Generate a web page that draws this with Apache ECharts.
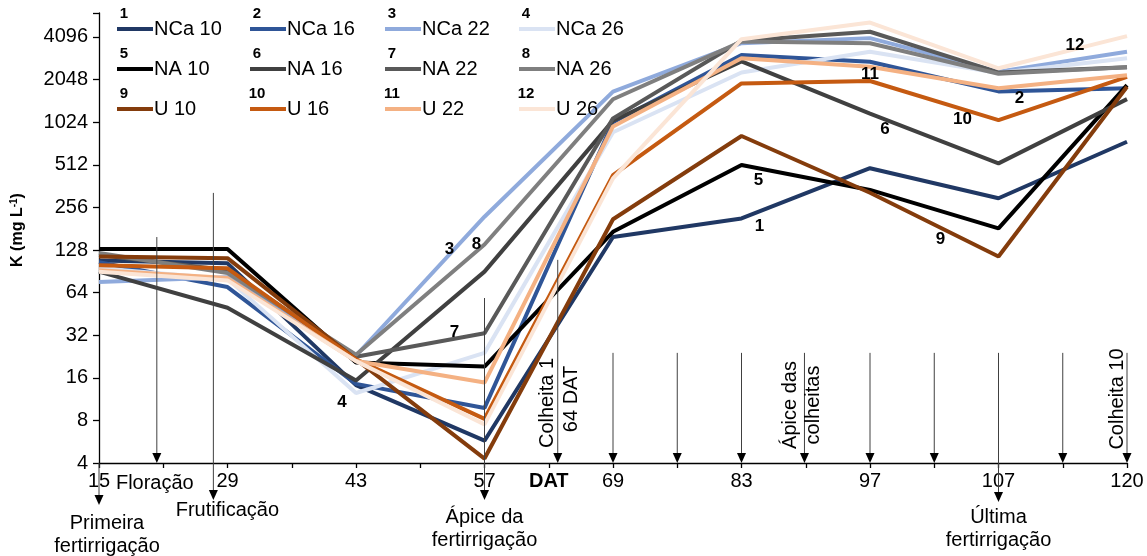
<!DOCTYPE html>
<html>
<head>
<meta charset="utf-8">
<script src="https://cdn.jsdelivr.net/npm/echarts@6/dist/echarts.min.js"></script>
<style>
  html, body { margin: 0; padding: 0; background: #ffffff; }
  #chart { width: 1147px; height: 556px; }
</style>
</head>
<body>
<div id="chart"></div>
<script>
// Days after transplanting (DAT) at each sampling date
const datLabels = ['15', '29', '43', '57', '69', '83', '97', '107', '120'];

// K concentration in the soil solution (mg L-1), one array per treatment
const nca10 = [108, 103, 14.2, 5.75, 158, 214, 484, 297, 745];
const nca16 = [105, 70, 14.5, 9.8, 1022, 3050, 2740, 1690, 1777];
const nca22 = [76, 82, 23, 220, 1683, 3700, 4020, 2330, 3225];
const nca26 = [95, 80, 12.5, 24, 870, 2300, 3225, 2280, 2900];
const na10  = [130, 130, 20.5, 19.2, 172, 510, 340, 182, 1870];
const na16  = [90, 50, 15.3, 90, 1050, 2750, 1176, 524, 1490];
const na22  = [118, 92, 22.5, 33, 1090, 3850, 4460, 2300, 2500];
const na26  = [122, 88, 23.3, 140, 1486, 3800, 3700, 2250, 2500];
const u10   = [115, 112, 21.6, 4.3, 211, 818, 325, 115, 1820];
const u16   = [100, 95, 21.6, 8.2, 432, 1925, 2000, 1060, 2140];
const u22   = [92, 81, 21, 14.8, 955, 2900, 2520, 1777, 2200];
const u26   = [90, 78, 21, 7.5, 410, 3950, 5180, 2460, 4150];

const seriesNames = ['NCa 10', 'NCa 16', 'NCa 22', 'NCa 26',
                     'NA 10', 'NA 16', 'NA 22', 'NA 26',
                     'U 10', 'U 16', 'U 22', 'U 26'];
const seriesValues = [nca10, nca16, nca22, nca26, na10, na16, na22, na26, u10, u16, u22, u26];
const seriesColors = ['#203864', '#2F5597', '#8FAADC', '#DAE3F3',
                      '#000000', '#404040', '#595959', '#7F7F7F',
                      '#843C0C', '#C55A11', '#F4B183', '#FBE5D6'];

// Number tags written next to each curve: [series, point, dx, dy]
const curveTags = [
  [0, 5, 18, 8], [1, 7, 21, 7], [2, 3, -35, 33], [3, 2, -14, 9],
  [4, 5, 17, 15], [5, 6, 15, 16], [6, 3, -30, -1], [7, 3, -8, 0],
  [8, 7, -58, -17], [9, 7, -36, -1], [10, 6, 0, 7], [11, 8, -52, 9]
];

// Crop events: x position (in sampling steps), top value of the arrow, drop below axis
const eventArrows = [
  [0, 4, 42], [0.45, 158, 0], [0.89, 324, 37], [3, 58.6, 37],
  [3.57, 109, 0], [4, 24, 0], [4.5, 24, 0], [5, 24, 0], [5.49, 24, 0],
  [6, 24, 0], [6.5, 24, 0], [7, 24, 39], [7.5, 24, 0], [8, 24, 0]
];
// Horizontal captions: [x, dx, dy below axis, text]
const eventTexts = [
  [0, 8, 60, 'Primeira'], [0, 8, 83, 'fertirrigação'],
  [0.45, -2, 20, 'Floração'], [0.89, 14, 47, 'Frutificação'],
  [3, 0, 54, 'Ápice da'], [3, 0, 77, 'fertirrigação'],
  [7, 0, 54, 'Última'], [7, 0, 77, 'fertirrigação']
];
// Vertical captions: [x, dx, dy above axis, text]
const eventVertical = [
  [3.57, -10, 60, 'Colheita 1'], [3.57, 14, 64, '64 DAT'],
  [5.49, -14, 58, 'Ápice das'], [5.49, 9, 58, 'colheitas'],
  [8, -10, 64, 'Colheita 10']
];

const FONT = 'Liberation Sans, Arial, sans-serif';
const FS = 20;

const series = seriesNames.map((name, s) => ({
  name: name,
  type: 'line',
  data: seriesValues[s].map((v, i) => [i, v]),
  showSymbol: false,
  symbol: 'none',
  lineStyle: { color: seriesColors[s], width: 4 },
  itemStyle: { color: seriesColors[s] },
  emphasis: { disabled: true },
  animation: false
}));

// Four legend columns, three rows each
const legendLefts = [112, 245, 380, 514];
const legends = legendLefts.map((left, c) => ({
  left: left,
  top: 14,
  orient: 'vertical',
  itemGap: 20,
  itemWidth: 36,
  itemHeight: 4,
  icon: 'rect',
  selectedMode: false,
  data: [seriesNames[c], seriesNames[c + 4], seriesNames[c + 8]],
  textStyle: { fontFamily: FONT, fontSize: FS, color: '#000', lineHeight: 20, padding: [0, 0, 0, -4] }
}));

const chart = echarts.init(document.getElementById('chart'), null, { renderer: 'canvas' });

chart.setOption({
  backgroundColor: '#ffffff',
  animation: false,
  legend: legends,
  grid: { left: 99, right: 20, top: 13, bottom: 93, containLabel: false },
  xAxis: {
    type: 'value',
    min: 0,
    max: 8,
    interval: 0.5,
    axisLine: { show: true, onZero: false, lineStyle: { color: '#000', width: 1.3 } },
    axisTick: { show: true, length: 5, lineStyle: { color: '#000', width: 1.3 } },
    splitLine: { show: false },
    axisLabel: {
      margin: 8,
      fontFamily: FONT,
      fontSize: FS,
      color: '#000',
      showMinLabel: true,
      showMaxLabel: true,
      formatter: function (v) {
        if (Math.abs(v - 3.5) < 1e-6) return '{b|DAT}';
        if (Math.abs(v - Math.round(v)) < 1e-6) return datLabels[Math.round(v)];
        return '';
      },
      rich: { b: { fontFamily: FONT, fontSize: FS, fontWeight: 'bold', color: '#000' } }
    }
  },
  yAxis: {
    type: 'log',
    logBase: 2,
    min: 4,
    max: 6050,
    interval: 1,
    name: 'K (mg L{s|-1})',
    nameLocation: 'middle',
    nameRotate: 90,
    nameGap: 73,
    nameTextStyle: {
      fontFamily: FONT, fontSize: 16, fontWeight: 'bold', color: '#000',
      padding: [0, 0, 0, 16],
      rich: { s: { fontFamily: FONT, fontSize: 10, fontWeight: 'bold', color: '#000', verticalAlign: 'top', padding: [0, 0, 7, 0] } }
    },
    axisLine: { show: true, lineStyle: { color: '#000', width: 1.3 } },
    axisTick: { show: true, inside: false, length: 6, lineStyle: { color: '#000', width: 1.3 } },
    splitLine: { show: false },
    axisLabel: {
      margin: 11,
      fontFamily: FONT,
      fontSize: FS,
      color: '#000',
      formatter: function (v) {
        const l = Math.log2(v);
        if (Math.abs(l - Math.round(l)) < 1e-4) return String(Math.round(Math.pow(2, Math.round(l))));
        return '';
      }
    }
  },
  series: series
});

// Annotations placed through the grid's coordinate system
function px(x, y) { return chart.convertToPixel({ gridIndex: 0 }, [x, y]); }
const axisY = px(0, 4)[1];
const graphics = [];

eventArrows.forEach(([x, top, drop]) => {
  const p = px(x, top);
  const tip = axisY + drop;
  graphics.push({
    type: 'line', z: 50,
    shape: { x1: p[0], y1: p[1], x2: p[0], y2: tip - 8 },
    style: { stroke: '#404040', lineWidth: 1 }
  });
  graphics.push({
    type: 'polygon', z: 51,
    shape: { points: [[p[0] - 4.5, tip - 10], [p[0] + 4.5, tip - 10], [p[0], tip]] },
    style: { fill: '#000' }
  });
});

eventTexts.forEach(([x, dx, dy, text]) => {
  const p = px(x, 4);
  graphics.push({
    type: 'text', z: 52, x: p[0] + dx, y: axisY + dy,
    style: { text: text, fill: '#000', fontFamily: FONT, fontSize: FS, align: 'center', verticalAlign: 'middle' }
  });
});

eventVertical.forEach(([x, dx, dy, text]) => {
  const p = px(x, 4);
  graphics.push({
    type: 'text', z: 52, x: p[0] + dx, y: axisY - dy, rotation: Math.PI / 2,
    style: { text: text, fill: '#000', fontFamily: FONT, fontSize: FS, align: 'center', verticalAlign: 'middle' }
  });
});

curveTags.forEach(([s, i, dx, dy]) => {
  const p = px(i, seriesValues[s][i]);
  graphics.push({
    type: 'text', z: 60, x: p[0] + dx, y: p[1] + dy,
    style: { text: String(s + 1), fill: '#000', fontFamily: FONT, fontSize: 17, fontWeight: 'bold', align: 'center', verticalAlign: 'middle' }
  });
});

// Curve numbers above the legend swatches
legendLefts.forEach((left, c) => {
  [0, 1, 2].forEach(r => {
    graphics.push({
      type: 'text', z: 60, x: left + 12, y: 14 + r * 40,
      style: { text: String(c + 1 + 4 * r), fill: '#000', fontFamily: FONT, fontSize: 15, fontWeight: 'bold', align: 'center', verticalAlign: 'middle' }
    });
  });
});

chart.setOption({ graphic: graphics });
</script>
</body>
</html>
